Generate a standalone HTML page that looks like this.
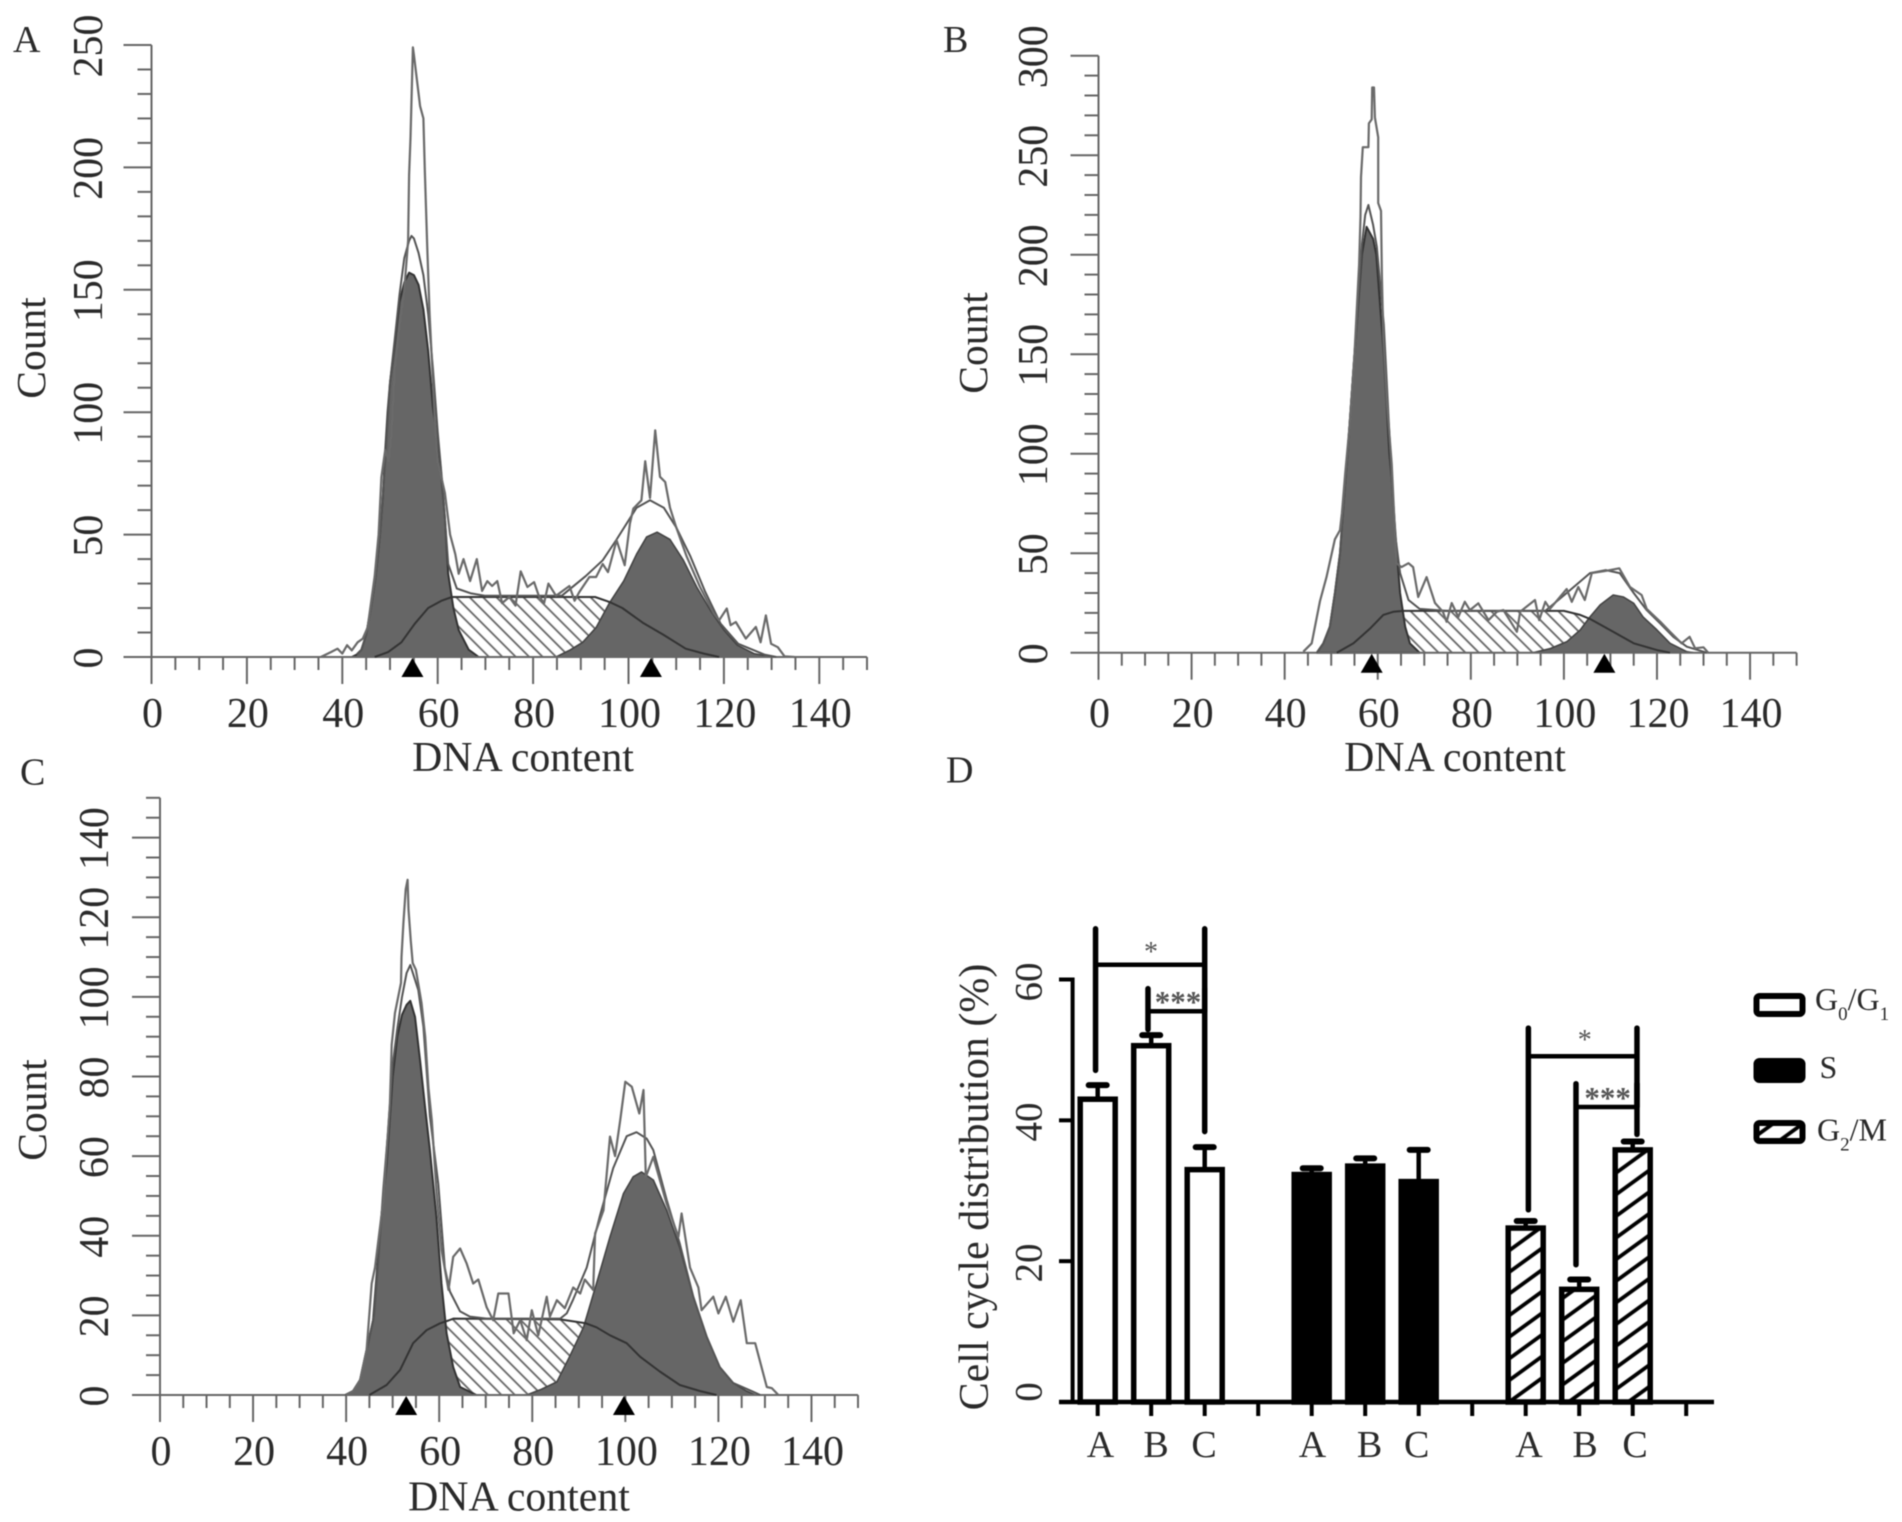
<!DOCTYPE html>
<html lang="en">
<head>
<meta charset="utf-8">
<title>Cell cycle distribution</title>
<style>
html,body{margin:0;padding:0;background:#fff;}
svg{display:block;filter:blur(0.6px);}
text{font-family:"Liberation Serif",serif;fill:#2a2a2a;}
</style>
</head>
<body>
<svg id="figure" xmlns="http://www.w3.org/2000/svg" width="1902" height="1522" viewBox="0 0 1902 1522">
  <defs>
    <pattern id="s-hatch" patternUnits="userSpaceOnUse" width="9.5" height="9.5" patternTransform="rotate(-45)">
      <rect width="9.5" height="9.5" fill="#fff"/>
      <line x1="4.75" y1="0" x2="4.75" y2="9.5" stroke="#666" stroke-width="1.8"/>
    </pattern>
    <pattern id="bar-hatch" patternUnits="userSpaceOnUse" width="17.5" height="17.5" patternTransform="rotate(54)">
      <rect width="17.5" height="17.5" fill="#fff"/>
      <line x1="8.75" y1="0" x2="8.75" y2="17.5" stroke="#000" stroke-width="3.8"/>
    </pattern>
  </defs>
</svg>
<script>
/* ---------- histogram tick labels ---------- */
const xTickLabels = [0, 20, 40, 60, 80, 100, 120, 140];
const yTickLabelsA = [0, 50, 100, 150, 200, 250];
const yTickLabelsB = [0, 50, 100, 150, 200, 250, 300];
const yTickLabelsC = [0, 20, 40, 60, 80, 100, 120, 140];

/* ---------- panel A series (DNA content, count) ---------- */
const aHistX = [35.5,37.6,39,40,41,42,43.2,44.3,45.3,46.8,
  47.6,48.2,49,49.7,50.3,51,52,53,53.8,54,
  54.3,54.8,55,56.3,57,57.3,57.8,58.3,59.4,60,
  61.5,62.6,63.7,64.4,65.4,66.8,68.2,69.3,70.4,71.4,
  72.5,73.5,75,76.3,77.4,78.8,80.2,81.2,82.3,83.2,
  84.8,87.6,88.7,89.7,91.8,93.2,94.6,95.7,97.5,99.2,
  100.3,101,102.7,103.5,104.5,105.6,106.6,107.7,108.7,110,
  112.2,115,117.9,119,120.6,121.4,122.5,124.6,126.7,127.7,
  128.8,129.9,131.3,132.7,134.8];
const aHistY = [0,2,3.4,1.4,4.8,2.7,6,7.5,12,33,
  50,73.5,84.5,80,91,118,135,150,170,197,
  212,249,246,225,220,199,168,140,97,80,
  67,50,42,34,40,31,40,27,31,29,
  31,22,24.5,21,35,28.6,30.6,25,22,30,
  25,29,23,26.6,32.7,32.7,38,34.7,47.7,37.5,
  54.5,60.6,64,80,65,92.6,73.6,71.5,61,53,
  41,28.6,17.7,15,19.8,13,14.3,7.5,12.3,6,
  17,5.4,4,0.3,0];
const aFitX = [43,44,45,46,47,48,49,50,51,52,
  53,54,54.5,55,56,57,58,59,60,61,
  62.2,64,67,70,86,91,94.6,97.5,101.7,104.5,
  107.4,110,113,116,119.3,123,128.5,131];
const aFitY = [1,3,9,20,33,52,80,112,130,148,
  163,170,172,171,165,156,140,118,92,70,
  38,28,26,25,25,33,39.5,48,61,64,
  61,53,41,27,13.6,5.4,1,0];
const aG1X = [42,43,44,45,46,47,47.9,48.5,49,49.5,
  50,51,52,53,54,55,56,57,58,59,
  60,60.5,61.5,62.2,63.3,64.4,66.5,68.6];
const aG1Y = [0,1,3,9,20,33,50,65,84,100,
  112,128,145,153,157,156,152,142,125,102,
  88,80,57,34,20,11,3,0];
const aSX = [46.8,49.6,52.4,55.2,58,60.8,63,93,96,98.7,103,107.4,112,115.8,119];
const aSY = [0,2,6,13.6,20,23,24.5,24.5,22.5,20,14,9,3.4,1.4,0];
const aG2X = [84.8,87.6,90.4,93.2,96,99,101.7,103.8,106,108.7,111.5,114.3,117.2,120,122.8,126.3,130];
const aG2Y = [0,2.7,6,12,22,31,42,49,51,48,39.5,28.6,19,11,4.8,1.4,0];
const aPeakMarkers = [54.7, 104.7];

/* ---------- panel B series ---------- */
const bHistX = [44,45.8,47.6,49,50.8,51.9,52.3,53,54,55,
  56,56.3,56.4,56.8,58,58.1,58.7,58.8,59.2,59.4,
  60.1,60.1,60.7,60.9,61.2,62,63,64,65.1,66.6,
  67.6,68.7,70.5,72.3,74,74.8,75.9,77.3,78.7,79.8,
  81.6,83.8,85.6,87,89.9,90.6,93.8,94.7,96,97,
  100.6,101.7,103.1,104.5,106,108.8,111.9,114.2,116.7,117.8,
  120.7,122.8,125.3,127,128.2,130,131];
const bHistY = [0.5,4.7,26,38,57,61.6,70,90,115,150,
  195,219,239,254,254,266,268,284,284,269,
  259,226,222,189,159,125,95,45,43,45,
  43,28,38,25,20.6,15.6,25,18,25.6,21.4,
  24.8,16.4,20.6,21.4,10.5,20.6,26.5,16.4,25.6,22,
  32,25.6,33,26.5,40,41,42.4,33,29,22,
  15.6,10.5,4.7,8,2.2,2.7,0];
const bFitX = [46.9,48.3,49.7,50.8,51.9,52.6,53.5,55,56.6,57.3,
  58,59,59.8,61.3,62.5,63,63.7,64.8,66.6,69,
  74.8,96,100.6,105.6,109,112,115,117.8,120.7,123.5,
  126.4,130.7];
const bFitY = [0,4.7,13,30,50,73,100,150,205,220,
  225,215,204,165,110,87,60,40,26.5,22,
  21,21,30,40,41.5,40,30,21.4,14.7,8,
  3,0];
const bG1X = [46.9,48.3,49.7,50.8,51.9,52.6,53.5,55,56.6,57.6,
  59,59.7,61.3,62.5,63,64,64.8,65.9,66.9,69];
const bG1Y = [0,4.7,13,30,50,73,100,150,200,214,
  208,200,150,100,87,53,30,13,4.7,0];
const bSX = [51.2,54.8,58.3,61.2,63.4,65.5,100,103.5,105.6,110.6,115,120,122.8];
const bSY = [0,4.7,12,19,20.6,21,21,19,17,10.5,4.7,1.3,0];
const bG2X = [93.4,97,100.6,103.5,105.6,107.8,110.6,112.8,115,117,120,122.8,126.4,127.8];
const bG2Y = [0,2,5.5,11.4,18,24,29,28,24.8,18,11.4,4.7,0.5,0];
const bPeakMarkers = [58.7, 108.7];

/* ---------- panel C series ---------- */
const cHistX = [40,41.5,43,44.4,45.5,46.2,48,49.4,49.8,50.5,
  51.8,51.9,52.3,52.8,53.2,53.4,53.9,54.3,55,56.2,
  57,57.7,58.4,59.4,60.5,62,63,64.5,65.9,67.3,
  68.4,70.2,71.6,72.7,74.9,76,77.4,78.8,79.9,81.3,
  83.1,83.8,85.3,87,88.8,90.3,91.3,93.1,93.5,95.3,
  96.7,97.8,98.9,100,101.4,103,103.9,104.4,106,108.9,
  111.4,112.1,113.9,115.7,116.4,118.9,120,121.6,123.2,124.8,
  126.1,127.9,130.4,131.5,132.9];
const cHistY = [0,1,3.8,11.3,28,32,49,73,88,96,
  103.5,110,118.5,127,129.4,122,114,108.5,106.8,98.5,
  90,77,69,51.5,36.4,26.4,34.7,36.8,33,28,
  29,22,18.8,25.5,25.5,15.5,18.8,13.8,21.3,15,
  24.7,19.7,23.8,21.8,27,25.5,29,26.4,40.6,46.4,
  64.9,60,69,78.7,77.4,70.7,76.6,54.8,59.8,48,
  39.7,45.6,32,27,21.3,24.7,20.5,24.7,18.4,23.8,
  13,13,2,1.7,0];
const cFitX = [39.8,41.5,43,44.4,46,47,48,49,50,51,
  52,53,53.8,55.5,56.6,58,59.8,61.2,62.3,64.5,
  66.6,70.2,86,87.4,88.8,91.7,94.5,97.4,100.3,102.4,
  104.6,106,108.9,111.7,114.6,117.5,120.3,123.2,127.5,129];
const cFitY = [0,1,3.8,11.3,20,35,52,66,83,92,
  100,106,108,101.7,92.5,70,53,32,26,21,
  19.7,19.2,19.2,20.5,24,32,44.8,57,65,66,
  64.4,61.5,49,38,24.7,14.6,7,3,0.8,0];
const cG1X = [39.8,41.5,43,44.4,45.8,47.3,48.7,50,51,52,
  53,53.8,54.8,55.9,57,58,59.4,60.5,61.6,63,
  64.5,68];
const cG1Y = [0,1,3.8,11.3,18.8,41.4,58,80,90,95.5,
  98,99,95,84,72,61.5,44.8,28,15.5,7,
  2,0];
const cSX = [45,48.7,51.6,54.4,57.3,60.2,62,63.1,86,91.5,93.8,96.7,100.3,103.2,107.4,111.7,116,119.6];
const cSY = [0,2.5,6.3,13,16.3,18,18.7,19.2,19,18,17,15,13,9.6,5.9,2.5,1,0];
const cG2X = [78.8,81.7,85.3,88,91,93.8,96.7,99.6,101.7,103.5,106,108.9,111.7,114.6,117.5,120.3,123.2,126,128];
const cG2Y = [0,1.3,3.3,9.6,17,28,39.7,50.6,54.8,56,54,46.4,37,24.7,14.6,7,3,1,0];
const cPeakMarkers = [52.9, 99.7];

/* ---------- panel D data ---------- */
const barCategories = ['A', 'B', 'C'];
const barYTicks = [0, 20, 40, 60];
const g0g1Values = [43, 50.6, 33];
const g0g1ErrorTops = [45, 52.1, 36.2];
const sPhaseValues = [32.3, 33.5, 31.3];
const sPhaseErrorTops = [33.2, 34.6, 35.8];
const g2mValues = [24.7, 16, 35.8];
const g2mErrorTops = [25.7, 17.4, 37];

/* ---------- layout ---------- */
const svgNS = 'http://www.w3.org/2000/svg';
const figure = document.getElementById('figure');

function mk(tag, attrs, parent) {
  const el = document.createElementNS(svgNS, tag);
  for (const k in attrs) el.setAttribute(k, attrs[k]);
  (parent || figure).appendChild(el);
  return el;
}
function linear(d0, d1, r0, r1) {
  return function (v) { return r0 + (v - d0) * (r1 - r0) / (d1 - d0); };
}
function group(name) {
  const g = mk('g', {});
  
  
  return g;
}
function label(parent, name, str, x, y, size, anchor, rotate) {
  const attrs = { x: x, y: y, 'font-size': size, 'text-anchor': anchor || 'middle' };
  if (rotate) attrs.transform = 'rotate(-90 ' + x + ' ' + y + ')';
  const t = mk('text', attrs, parent);
  t.textContent = str;
  
  
  return t;
}
function seg(parent, name, x1, y1, x2, y2, color, width, cap) {
  const l = mk('line', { x1: x1, y1: y1, x2: x2, y2: y2, stroke: color, 'stroke-width': width, 'stroke-linecap': cap || 'butt' }, parent);
  
  
  return l;
}
function pts(xs, ys, sx, sy) {
  return xs.map(function (v, i) { return sx(v).toFixed(1) + ',' + sy(ys[i]).toFixed(1); }).join(' ');
}

function drawHistogram(cfg) {
  const g = group('panel-' + cfg.id);
  const sx = linear(0, 150, cfg.x0, cfg.x150);
  const sy = linear(0, cfg.topVal, cfg.y0, cfg.yTop);

  const hatch = mk('polygon', { points: pts(cfg.sX, cfg.sY, sx, sy), fill: 'url(#s-hatch)', stroke: 'none' }, g);
  
  

  const g1 = mk('polygon', { points: pts(cfg.g1X, cfg.g1Y, sx, sy), fill: '#666', stroke: '#333', 'stroke-width': 2, 'stroke-linejoin': 'round' }, g);
  
  

  const g2 = mk('polygon', { points: pts(cfg.g2X, cfg.g2Y, sx, sy), fill: '#666', stroke: '#444', 'stroke-width': 1.6, 'stroke-linejoin': 'round' }, g);
  
  

  /* axes */
  seg(g, 'y-axis', cfg.x0, cfg.yTop, cfg.x0, cfg.y0 + 27, '#666', 2);
  seg(g, 'x-axis', cfg.x0 - 28, cfg.y0, cfg.x150, cfg.y0, '#666', 2);
  for (let v = 5; v <= 150; v += 5) {
    if (xTickLabels.indexOf(v) >= 0) seg(g, 'x-major-tick', sx(v), cfg.y0, sx(v), cfg.y0 + 27, '#666', 2);
    else seg(g, 'x-minor-tick', sx(v), cfg.y0, sx(v), cfg.y0 + 13, '#666', 2);
  }
  for (let v = cfg.yMinor; v <= cfg.topVal; v += cfg.yMinor) {
    const major = cfg.yLabels.indexOf(v) >= 0;
    if (major) seg(g, 'y-major-tick', cfg.x0 - 28, sy(v), cfg.x0, sy(v), '#666', 2);
    else seg(g, 'y-minor-tick', cfg.x0 - 14, sy(v), cfg.x0, sy(v), '#666', 2);
  }
  xTickLabels.forEach(function (v) {
    label(g, 'x-tick-label', String(v), sx(v) + 1, cfg.xLabelY, 42);
  });
  cfg.yLabels.forEach(function (v) {
    label(g, 'y-tick-label', String(v), cfg.yLabelX, sy(v) + 1, 42, 'middle', true);
  });
  label(g, 'x-axis-title', 'DNA content', cfg.titleX, cfg.titleY, 41.8);
  label(g, 'y-axis-title', 'Count', cfg.countX, cfg.countY, 41.5, 'middle', true);
  label(g, 'panel-letter', cfg.id, cfg.letterX, cfg.letterY, 38, 'start');

  /* lines */
  const sLine = mk('polyline', { points: pts(cfg.sX, cfg.sY, sx, sy), fill: 'none', stroke: '#333', 'stroke-width': 2, 'stroke-linejoin': 'round' }, g);
  
  

  const fit = mk('polyline', { points: pts(cfg.fitX, cfg.fitY, sx, sy), fill: 'none', stroke: '#555', 'stroke-width': 2, 'stroke-linejoin': 'round' }, g);
  
  

  const hist = mk('polyline', { points: pts(cfg.histX, cfg.histY, sx, sy), fill: 'none', stroke: '#6a6a6a', 'stroke-width': 2.2, 'stroke-linejoin': 'round' }, g);
  
  

  cfg.markers.forEach(function (v) {
    const cx = sx(v);
    const tri = mk('polygon', { points: (cx - 11) + ',' + (cfg.y0 + 20) + ' ' + (cx + 11) + ',' + (cfg.y0 + 20) + ' ' + cx + ',' + (cfg.y0 + 1), fill: '#000' }, g);
    
    
  });
}

drawHistogram({ id: 'A', x0: 151.5, x150: 867, y0: 657, yTop: 45, topVal: 250, yMinor: 10, yLabels: yTickLabelsA,
  xLabelY: 727, yLabelX: 102, titleX: 523, titleY: 771, countX: 45, countY: 348, letterX: 13, letterY: 52,
  histX: aHistX, histY: aHistY, fitX: aFitX, fitY: aFitY, g1X: aG1X, g1Y: aG1Y, sX: aSX, sY: aSY, g2X: aG2X, g2Y: aG2Y, markers: aPeakMarkers });

drawHistogram({ id: 'B', x0: 1098.5, x150: 1796.6, y0: 652.7, yTop: 55.7, topVal: 300, yMinor: 10, yLabels: yTickLabelsB,
  xLabelY: 727, yLabelX: 1047, titleX: 1455, titleY: 771, countX: 987, countY: 343, letterX: 943, letterY: 52,
  histX: bHistX, histY: bHistY, fitX: bFitX, fitY: bFitY, g1X: bG1X, g1Y: bG1Y, sX: bSX, sY: bSY, g2X: bG2X, g2Y: bG2Y, markers: bPeakMarkers });

drawHistogram({ id: 'C', x0: 160, x150: 858, y0: 1395, yTop: 797.8, topVal: 150, yMinor: 5, yLabels: yTickLabelsC,
  xLabelY: 1465, yLabelX: 108, titleX: 519, titleY: 1510.7, countX: 46, countY: 1110, letterX: 20, letterY: 784.5,
  histX: cHistX, histY: cHistY, fitX: cFitX, fitY: cFitY, g1X: cG1X, g1Y: cG1Y, sX: cSX, sY: cSY, g2X: cG2X, g2Y: cG2Y, markers: cPeakMarkers });

/* ---------- panel D ---------- */
const panelD = group('panel-D');
const slotX = function (i) { return 1097.7 + 53.5 * i; };
const valY = linear(0, 60, 1402, 979.5);

label(panelD, 'panel-letter', 'D', 946, 782.5, 38, 'start');
label(panelD, 'y-axis-title', 'Cell cycle distribution (%)', 988, 1187, 42, 'middle', true);

function drawBars(values, tops, startSlot, fill, name) {
  values.forEach(function (v, i) {
    const cx = slotX(startSlot + i);
    seg(panelD, name + '-error-stem', cx, valY(v), cx, valY(tops[i]), '#000', 4.5);
    seg(panelD, name + '-error-cap', cx - 9, valY(tops[i]), cx + 9, valY(tops[i]), '#000', 6, 'round');
    const bar = mk('rect', { x: cx - 17.5, y: valY(v), width: 35, height: 1402 - valY(v), fill: fill, stroke: '#000', 'stroke-width': 5.5 }, panelD);
    
    
  });
}
drawBars(g0g1Values, g0g1ErrorTops, 0, '#fff', 'g0-g1');
drawBars(sPhaseValues, sPhaseErrorTops, 4, '#000', 's-phase');
drawBars(g2mValues, g2mErrorTops, 8, 'url(#bar-hatch)', 'g2-m');

seg(panelD, 'y-axis', 1072.6, valY(60) - 2, 1072.6, 1402, '#000', 4);
seg(panelD, 'x-axis', 1059, 1402, 1714, 1402, '#000', 4.5);
barYTicks.forEach(function (v) {
  seg(panelD, 'y-tick', 1059, valY(v), 1072.6, valY(v), '#000', 4);
});
for (let i = 0; i < 12; i++) {
  seg(panelD, 'x-tick', slotX(i), 1402, slotX(i), 1416, '#000', 4);
}
label(panelD, 'y-tick-label', '60', 1041.5, 982, 39, 'middle', true);
label(panelD, 'y-tick-label', '40', 1041.5, 1122, 39, 'middle', true);
label(panelD, 'y-tick-label', '20', 1041.5, 1263, 39, 'middle', true);
label(panelD, 'y-tick-label', '0', 1041.5, 1392, 39, 'middle', true);

[[1100.5, 'A'], [1156, 'B'], [1204, 'C'], [1312.5, 'A'], [1369.5, 'B'], [1416.7, 'C'], [1529, 'A'], [1585, 'B'], [1635, 'C']].forEach(function (p) {
  label(panelD, 'group-label', p[1], p[0], 1457, 38);
});

/* significance brackets */
function bracket(left, right, top, leftBottom, rightBottom, bar) {
  seg(panelD, 'bracket-left', slotX(left), valY(top), slotX(left), valY(leftBottom), '#000', 5.5, 'round');
  seg(panelD, 'bracket-right', slotX(right), valY(top), slotX(right), valY(rightBottom === null ? bar : rightBottom), '#000', 5.5, 'round');
  seg(panelD, 'bracket-bar', slotX(left), valY(bar), slotX(right), valY(bar), '#000', 4.5);
}
bracket(-0.04, 2, 67.2, 47.1, 38.4, 62.1);
bracket(0.94, 2, 58.7, 52.9, null, 55.5);
bracket(8.05, 10.08, 53.1, 27.3, 38, 49.1);
bracket(8.94, 10.08, 45.2, 19.5, null, 41.9);

label(panelD, 'significance-star', '*', 1151, 961, 28).setAttribute('style', 'fill:#555');
label(panelD, 'significance-stars', '***', 1178, 1012, 31).setAttribute('style', 'fill:#555;font-weight:bold');
label(panelD, 'significance-star', '*', 1584.7, 1049, 28).setAttribute('style', 'fill:#555');
label(panelD, 'significance-stars', '***', 1607.6, 1108, 31).setAttribute('style', 'fill:#555;font-weight:bold');

/* legend */
const legend = group('legend');
function legendBox(name, y, h, fill) {
  const r = mk('rect', { x: 1756.5, y: y, width: 46, height: h, rx: 3, fill: fill, stroke: '#000', 'stroke-width': 6 }, legend);
  
  
}
legendBox('legend-swatch-g0-g1', 996, 18, '#fff');
legendBox('legend-swatch-s', 1061, 19, '#000');
legendBox('legend-swatch-g2-m', 1123, 18, 'url(#bar-hatch)');

function legendText(name, x, y, parts) {
  const t = mk('text', { x: x, y: y, 'font-size': 32 }, legend);
  
  
  parts.forEach(function (p) {
    const s = mk('tspan', p.sub ? { 'font-size': 19, dy: 10 } : (p.back ? { dy: -10 } : {}), t);
    s.textContent = p.t;
  });
}
legendText('legend-label-g0-g1', 1815, 1010, [{ t: 'G' }, { t: '0', sub: true }, { t: '/G', back: true }, { t: '1', sub: true }]);
legendText('legend-label-s', 1819.5, 1078, [{ t: 'S' }]);
legendText('legend-label-g2-m', 1817, 1140.5, [{ t: 'G' }, { t: '2', sub: true }, { t: '/M', back: true }]);
</script>
</body>
</html>
